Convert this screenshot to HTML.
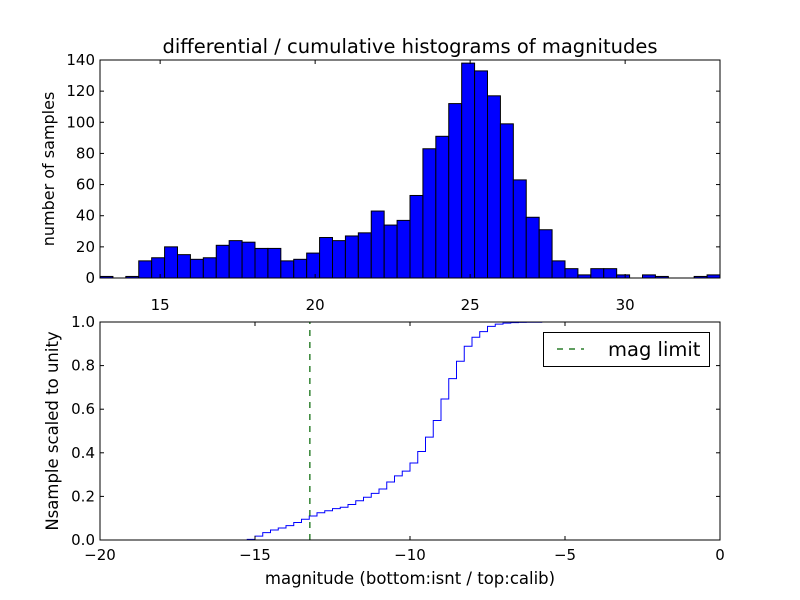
<!DOCTYPE html>
<html><head><meta charset="utf-8"><style>
body{margin:0;background:#fff}
svg{display:block;font-family:"DejaVu Sans","Liberation Sans",sans-serif}
</style></head><body>
<svg id="fig" width="800" height="600" viewBox="0 0 800 600">
<rect width="800" height="600" fill="#fff"/>
<text x="410" y="53" font-size="19.5" text-anchor="middle">differential / cumulative histograms of magnitudes</text>
<text transform="translate(54,169) rotate(-90)" font-size="16" text-anchor="middle">number of samples</text>
<text transform="translate(58,431) rotate(-90)" font-size="16.5" text-anchor="middle">Nsample scaled to unity</text>
<text x="410" y="584" font-size="16.5" text-anchor="middle">magnitude (bottom:isnt / top:calib)</text>
<g id="top"></g>
<g id="bot"></g>
</svg>
<script>
const histCounts=[1,0,1,11,13,20,15,12,13,21,24,23,19,19,11,12,16,26,24,27,29,43,34,37,53,83,91,112,138,133,117,99,63,39,31,11,6,2,6,6,2,0,2,1,0,0,1,2];
const histStart=13.06, histBinWidth=20/48;
const topXTicks=[15,20,25,30];
const topYTicks=[0,20,40,60,80,100,120,140];
const cumEdges=[-15.25,-15,-14.75,-14.5,-14.25,-14,-13.75,-13.5,-13.25,-13,-12.75,-12.5,-12.25,-12,-11.75,-11.5,-11.25,-11,-10.75,-10.5,-10.25,-10,-9.75,-9.5,-9.25,-9,-8.75,-8.5,-8.25,-8,-7.75,-7.5,-7.25,-7,-6.75,-6.5,-6.25,-5.75];
const cumValues=[0.003,0.018,0.034,0.046,0.055,0.066,0.08,0.095,0.11,0.125,0.134,0.144,0.15,0.163,0.18,0.196,0.214,0.234,0.266,0.294,0.316,0.353,0.406,0.472,0.548,0.647,0.74,0.82,0.889,0.93,0.956,0.98,0.99,0.995,0.997,0.998,0.999,1.0];
const magLimit=-13.23;
const botXTicks=[-20,-15,-10,-5,0];
const botYTicks=[0,0.2,0.4,0.6,0.8,1.0];

const NS='http://www.w3.org/2000/svg';
function mk(tag,attrs,parent){const e=document.createElementNS(NS,tag);for(const k in attrs)e.setAttribute(k,attrs[k]);parent.appendChild(e);return e;}
const L=100,R=720;
const T={y0:278,y1:60,xmin:13.06,xmax:33.06,ymax:140};
const tx=v=>L+(v-T.xmin)/(T.xmax-T.xmin)*(R-L);
const ty=v=>T.y0-v/T.ymax*(T.y0-T.y1);
const topG=document.getElementById('top');
histCounts.forEach((c,i)=>{
  const x0=tx(histStart+i*histBinWidth),x1=tx(histStart+(i+1)*histBinWidth);
  const r=mk('rect',{x:x0,y:ty(c),width:x1-x0,height:ty(0)-ty(c),fill:'#0000ff',stroke:'#000','stroke-width':1},topG);
  
  
});
const tf=mk('rect',{x:L,y:T.y1,width:R-L,height:T.y0-T.y1,fill:'none',stroke:'#000','stroke-width':1},topG);


topXTicks.forEach(v=>{const x=tx(v);
  mk('line',{x1:x,x2:x,y1:T.y0,y2:T.y0-4,stroke:'#000'},topG);
  mk('line',{x1:x,x2:x,y1:T.y1,y2:T.y1+4,stroke:'#000'},topG);
  const t=mk('text',{x:x,y:T.y0+32,'font-size':15,'text-anchor':'middle'},topG);t.textContent=v;
  
  
});
topYTicks.forEach(v=>{const y=ty(v);
  mk('line',{x1:L,x2:L+4,y1:y,y2:y,stroke:'#000'},topG);
  mk('line',{x1:R,x2:R-4,y1:y,y2:y,stroke:'#000'},topG);
  const t=mk('text',{x:L-5,y:y+5,'font-size':15,'text-anchor':'end'},topG);t.textContent=v;
  
  
});
const B={y0:540,y1:322,xmin:-20,xmax:0};
const bx=v=>L+(v-B.xmin)/(B.xmax-B.xmin)*(R-L);
const by=v=>B.y0-v*(B.y0-B.y1);
const botG=document.getElementById('bot');
let d='M'+bx(-20)+','+by(0);let prev=0;
cumEdges.forEach((e,i)=>{d+=' L'+bx(e)+','+by(prev)+' L'+bx(e)+','+by(cumValues[i]);prev=cumValues[i];});
d+=' L'+bx(0)+','+by(prev);
const line=mk('path',{d:d,fill:'none',stroke:'#0000ff','stroke-width':1},botG);


const ml=mk('line',{x1:bx(magLimit),x2:bx(magLimit),y1:B.y0,y2:B.y1,stroke:'#006400','stroke-width':1.2,'stroke-dasharray':'6,6'},botG);


const bf=mk('rect',{x:L,y:B.y1,width:R-L,height:B.y0-B.y1,fill:'none',stroke:'#000','stroke-width':1},botG);


botXTicks.forEach(v=>{const x=bx(v);
  mk('line',{x1:x,x2:x,y1:B.y0,y2:B.y0-4,stroke:'#000'},botG);
  mk('line',{x1:x,x2:x,y1:B.y1,y2:B.y1+4,stroke:'#000'},botG);
  const t=mk('text',{x:x,y:B.y0+20,'font-size':15,'text-anchor':'middle'},botG);t.textContent=(v<0?'\u2212'+(-v):v);
  
  
});
botYTicks.forEach(v=>{const y=by(v);
  mk('line',{x1:L,x2:L+4,y1:y,y2:y,stroke:'#000'},botG);
  mk('line',{x1:R,x2:R-4,y1:y,y2:y,stroke:'#000'},botG);
  const t=mk('text',{x:L-5,y:y+5,'font-size':15,'text-anchor':'end'},botG);t.textContent=v.toFixed(1);
  
  
});
const lg=mk('g',{},botG);


mk('rect',{x:543.5,y:332.5,width:166,height:34,fill:'#fff',stroke:'#000'},lg);
mk('line',{x1:557,x2:584,y1:349,y2:349,stroke:'#006400','stroke-width':1.2,'stroke-dasharray':'6,6'},lg);
const lt=mk('text',{x:608,y:356,'font-size':19.5},lg);lt.textContent='mag limit';


</script>
</body></html>
